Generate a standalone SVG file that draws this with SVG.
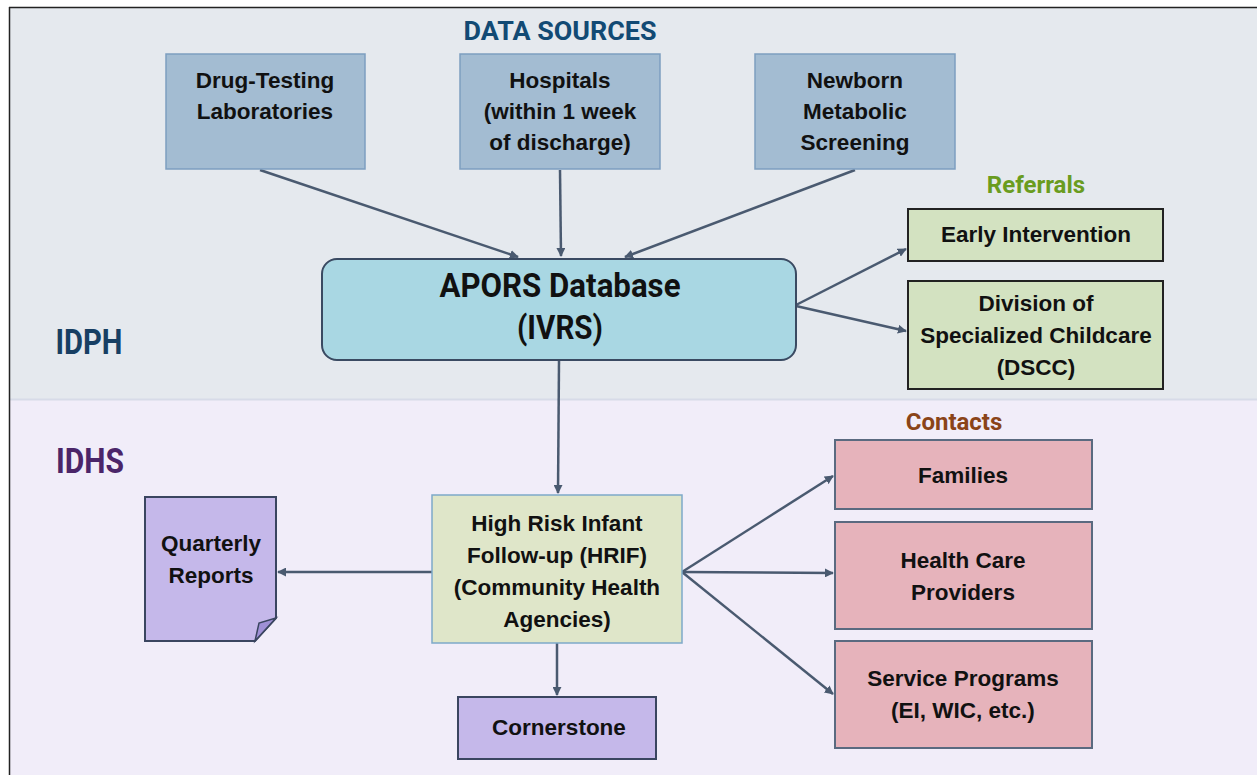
<svg xmlns="http://www.w3.org/2000/svg" width="1257" height="775" viewBox="0 0 1257 775">
<defs>
<marker id="ah" viewBox="0 0 10 10" refX="9" refY="5" markerWidth="9" markerHeight="9" markerUnits="userSpaceOnUse" orient="auto">
<path d="M0,0 L10,5 L0,10 z" fill="#4a5a70"/>
</marker>
<style>
.t{font-family:"Liberation Sans",Arial,sans-serif;font-weight:bold;font-size:22.5px;fill:#111;text-anchor:middle}
.h{font-family:Roboto,"Liberation Sans",sans-serif;font-weight:bold;text-anchor:middle}
.src{fill:#a3bcd2;stroke:#7d9ec0;stroke-width:1.5}
.ref{fill:#d3e2c1;stroke:#222;stroke-width:2}
.con{fill:#e6b3bb;stroke:#5a6a80;stroke-width:2}
.pur{fill:#c5b8ea;stroke:#3a4560;stroke-width:2}
.c{stroke:#4a5a70;stroke-width:2.5;fill:none;marker-end:url(#ah)}
</style>
</defs>
<rect x="0" y="0" width="1257" height="775" fill="#ffffff"/>
<rect x="9" y="8" width="1250" height="392" fill="#e5e9ee"/>
<rect x="9" y="400" width="1250" height="380" fill="#f1edf9"/>
<line x1="9" y1="399.5" x2="1257" y2="399.5" stroke="#d7dbe8" stroke-width="2"/>
<line x1="9" y1="7.5" x2="1257" y2="7.5" stroke="#222" stroke-width="1.5"/>
<line x1="9.5" y1="7" x2="9.5" y2="775" stroke="#222" stroke-width="1.5"/>

<text class="h" x="560" y="40" font-size="25" fill="#124a74" textLength="193" lengthAdjust="spacingAndGlyphs">DATA SOURCES</text>
<text class="h" x="1036" y="193" font-size="24" fill="#6a9c1f">Referrals</text>
<text class="h" x="954" y="430" font-size="24" fill="#8a4418">Contacts</text>
<text class="h" x="89" y="354" font-size="35" fill="#173f63" textLength="67" lengthAdjust="spacingAndGlyphs">IDPH</text>
<text class="h" x="90" y="473" font-size="35" fill="#4b2569" textLength="68" lengthAdjust="spacingAndGlyphs">IDHS</text>

<g id="connectors">
<line class="c" x1="260" y1="170" x2="518" y2="257"/>
<line class="c" x1="560" y1="170" x2="561" y2="256"/>
<line class="c" x1="855" y1="170" x2="625" y2="257"/>
<line class="c" x1="796" y1="305" x2="906" y2="249"/>
<line class="c" x1="796" y1="306" x2="906" y2="331"/>
<line class="c" x1="559" y1="361" x2="558" y2="493"/>
<line class="c" x1="432" y1="572" x2="278" y2="572"/>
<line class="c" x1="682" y1="572" x2="833" y2="476"/>
<line class="c" x1="682" y1="572" x2="833" y2="573"/>
<line class="c" x1="682" y1="572" x2="833" y2="694"/>
<line class="c" x1="557" y1="643" x2="557" y2="695"/>
</g>

<g id="drug">
<rect class="src" x="166" y="54" width="199" height="115"/>
<text class="t" x="265" y="88">Drug-Testing</text>
<text class="t" x="265" y="119">Laboratories</text>
</g>
<g id="hospitals">
<rect class="src" x="460" y="54" width="200" height="115"/>
<text class="t" x="560" y="88">Hospitals</text>
<text class="t" x="560" y="119">(within 1 week</text>
<text class="t" x="560" y="150">of discharge)</text>
</g>
<g id="newborn">
<rect class="src" x="755" y="54" width="200" height="115"/>
<text class="t" x="855" y="88">Newborn</text>
<text class="t" x="855" y="119">Metabolic</text>
<text class="t" x="855" y="150">Screening</text>
</g>
<g id="apors">
<rect x="322" y="259" width="474" height="101" rx="15" fill="#a9d7e3" stroke="#3a4a62" stroke-width="2"/>
<text class="h" x="560" y="297" font-size="34" fill="#111" textLength="241" lengthAdjust="spacingAndGlyphs">APORS Database</text>
<text class="h" x="560" y="339" font-size="34" fill="#111" textLength="86" lengthAdjust="spacingAndGlyphs">(IVRS)</text>
</g>
<g id="early">
<rect class="ref" x="908" y="209" width="255" height="52"/>
<text class="t" x="1036" y="242">Early Intervention</text>
</g>
<g id="dscc">
<rect class="ref" x="908" y="281" width="255" height="108"/>
<text class="t" x="1036" y="311">Division of</text>
<text class="t" x="1036" y="343">Specialized Childcare</text>
<text class="t" x="1036" y="375">(DSCC)</text>
</g>
<g id="hrif">
<rect x="432" y="495" width="250" height="148" fill="#dfe6c9" stroke="#7ea9c9" stroke-width="1.5"/>
<text class="t" x="557" y="531">High Risk Infant</text>
<text class="t" x="557" y="563">Follow-up (HRIF)</text>
<text class="t" x="557" y="595">(Community Health</text>
<text class="t" x="557" y="627">Agencies)</text>
</g>
<g id="quarterly">
<path class="pur" d="M145,497 H276 V618 L255,641 H145 Z"/>
<path d="M276,618 L259,623 L255,641 Z" fill="#9f90d6" stroke="#3a4560" stroke-width="1.5"/>
<text class="t" x="211" y="551">Quarterly</text>
<text class="t" x="211" y="583">Reports</text>
</g>
<g id="cornerstone">
<rect class="pur" x="458" y="697" width="198" height="62"/>
<text class="t" x="559" y="735">Cornerstone</text>
</g>
<g id="families">
<rect class="con" x="835" y="440" width="257" height="69"/>
<text class="t" x="963" y="483">Families</text>
</g>
<g id="hcp">
<rect class="con" x="835" y="522" width="257" height="107"/>
<text class="t" x="963" y="568">Health Care</text>
<text class="t" x="963" y="600">Providers</text>
</g>
<g id="sp">
<rect class="con" x="835" y="641" width="257" height="107"/>
<text class="t" x="963" y="686">Service Programs</text>
<text class="t" x="963" y="718">(EI, WIC, etc.)</text>
</g>
</svg>
